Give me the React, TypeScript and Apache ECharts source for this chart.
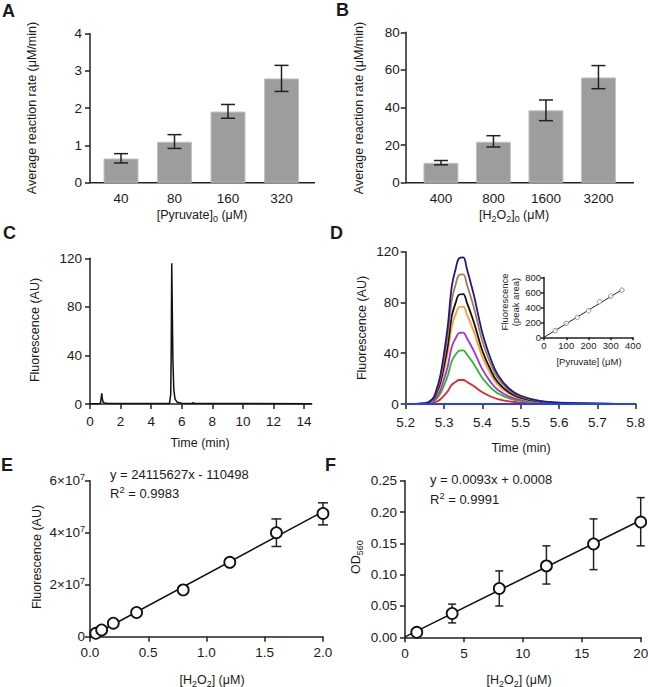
import React, { useEffect, useRef } from 'react';
import * as echarts from 'echarts';

// ---------- data ----------
const catsA = ['40', '80', '160', '320'];
const rateA = [0.65, 1.1, 1.91, 2.8];
const errLoA = [0.53, 0.92, 1.73, 2.45];
const errHiA = [0.78, 1.29, 2.1, 3.15];

const catsB = ['400', '800', '1600', '3200'];
const rateB = [10.6, 21.8, 38.5, 56];
const errLoB = [9.5, 19, 33, 50];
const errHiB = [11.8, 25, 44, 62.3];

const timeC = [0, 0.62, 0.7, 0.74, 0.77, 0.8, 0.85, 0.95, 1.2, 5.2, 5.28, 5.31, 5.345, 5.38, 5.42, 5.48, 5.56, 5.7, 6.0, 6.7, 6.75, 6.8, 14.5];
const fluoC = [0.3, 0.3, 1.5, 6, 8.8, 5, 1.8, 0.8, 0.4, 0.4, 8, 40, 116, 80, 38, 12, 4, 1.5, 0.6, 0.5, 1.2, 0.5, 0.3];

const timeD = [5.2, 5.25, 5.27, 5.28, 5.29, 5.3, 5.31, 5.32, 5.33, 5.34, 5.35, 5.36, 5.37, 5.38, 5.39, 5.4, 5.42, 5.44, 5.47, 5.5, 5.55, 5.62, 5.8];
const navyD = [0, 0.5, 4, 11, 22, 40, 62, 92, 106, 115, 115.5, 106, 95, 83, 69, 56, 37, 23, 12, 6.5, 2.5, 0.8, 0];
const brownD = [0, 0.4, 3.5, 9.7, 19.5, 35.4, 54.9, 81.4, 93.8, 101.8, 102.2, 93.8, 84.1, 73.5, 61.1, 49.6, 32.7, 20.4, 10.6, 5.8, 2.2, 0.7, 0];
const blackD = [0, 0.4, 3, 8.3, 16.5, 30, 46.5, 69, 79.5, 86.3, 86.6, 79.5, 71.3, 62.3, 51.8, 42, 27.8, 17.3, 9, 4.9, 1.9, 0.6, 0];
const orangeD = [0, 0.3, 2.7, 7.3, 14.6, 26.6, 41.2, 61.1, 70.4, 76.4, 76.7, 70.4, 63.1, 55.1, 45.8, 37.2, 24.6, 15.3, 8, 4.3, 1.7, 0.5, 0];
const purpleD = [0, 0.2, 1.9, 5.4, 10.7, 19.5, 30.2, 44.8, 51.6, 56, 56.2, 51.6, 46.3, 40.4, 33.6, 27.3, 18, 11.2, 5.8, 3.2, 1.2, 0.4, 0];
const greenD = [0, 0.2, 1.5, 4, 8.1, 14.6, 22.7, 33.7, 38.8, 42.1, 42.3, 38.8, 34.8, 30.4, 25.3, 20.5, 13.5, 8.4, 4.4, 2.4, 0.9, 0.3, 0];
const redD = [0, 0.1, 0.7, 1.8, 3.6, 6.6, 10.2, 15.1, 17.4, 18.9, 18.9, 17.4, 15.6, 13.6, 11.3, 9.2, 6.1, 3.8, 2, 1.1, 0.4, 0.1, 0];
const blueD = [0, 0, 0, 0, 0, 0, 0, 0, 0, 0, 0, 0, 0, 0, 0, 0, 0, 0, 0, 0, 0, 0, 0];

const pyrInset = [50, 100, 150, 200, 250, 300, 350];
const areaInset = [89, 187, 267, 356, 476, 551, 631];
const fitInsetX = [0, 350];
const fitInsetY = [0, 636];

const h2o2E = [0.05, 0.1, 0.2, 0.4, 0.8, 1.2, 1.6, 2.0];
const fluoE = [1.3e6, 2.6e6, 5.2e6, 9.3e6, 1.8e7, 2.86e7, 4.0e7, 4.74e7];
const errXE = [1.2, 1.6, 2.0];
const errLoE = [2.74e7, 3.47e7, 4.3e7];
const errHiE = [2.98e7, 4.53e7, 5.15e7];
const fitEX = [0, 2];
const fitEY = [-110498, 48120756];

const h2o2F = [1, 4, 8, 12, 16, 20];
const odF = [0.008, 0.038, 0.078, 0.114, 0.149, 0.184];
const errLoF = [0.005, 0.023, 0.05, 0.085, 0.108, 0.146];
const errHiF = [0.011, 0.053, 0.106, 0.146, 0.189, 0.223];
const fitFX = [0, 20];
const fitFY = [0.0008, 0.1868];

// ---------- style ----------
const FONT = '"Liberation Sans", Arial, Helvetica, sans-serif';
const TXT = '#1a1a1a';
const AXC = '#222';
const LBL = 13.5;
const TITLE = 12.5;

const lineStyleAx = { color: AXC, width: 1.5 };

const richLabel = {
  sup: { fontSize: 9, fontFamily: FONT, color: TXT, verticalAlign: 'top', padding: [0, 0, 7, 0] },
};

function yAxis(grid: number, min: number, max: number, interval: number, extra: any = {}) {
  return {
    type: 'value', gridIndex: grid, min, max, interval,
    axisLine: { show: true, lineStyle: lineStyleAx },
    axisTick: { show: true, length: 5, lineStyle: lineStyleAx },
    splitLine: { show: false },
    axisLabel: { margin: 7, fontSize: LBL, fontFamily: FONT, color: TXT, ...(extra.axisLabel || {}) },
    ...Object.fromEntries(Object.entries(extra).filter(([k]) => k !== 'axisLabel')),
  };
}
function xValue(grid: number, min: number, max: number, interval: number, extra: any = {}) {
  return {
    type: 'value', gridIndex: grid, min, max, interval,
    axisLine: { show: true, onZero: false, lineStyle: lineStyleAx },
    axisTick: { show: true, length: 5, lineStyle: lineStyleAx, ...(extra.axisTick || {}) },
    splitLine: { show: false },
    axisLabel: { margin: 9, fontSize: LBL, fontFamily: FONT, color: TXT, ...(extra.axisLabel || {}) },
  };
}
function xCat(grid: number, data: string[]) {
  return {
    type: 'category', gridIndex: grid, data,
    axisLine: { show: false },
    axisTick: { show: false },
    splitLine: { show: false },
    axisLabel: { margin: 9, fontSize: LBL, fontFamily: FONT, color: TXT },
  };
}

function errRender(cap: number) {
  return (params: any, api: any) => {
    const x = api.value(0);
    const pLo = api.coord([x, api.value(1)]);
    const pHi = api.coord([x, api.value(2)]);
    const style = { stroke: AXC, lineWidth: 1.5, fill: 'none' };
    return {
      type: 'group',
      children: [
        { type: 'line', shape: { x1: pLo[0], y1: pLo[1], x2: pHi[0], y2: pHi[1] }, style },
        { type: 'line', shape: { x1: pLo[0] - cap, y1: pLo[1], x2: pLo[0] + cap, y2: pLo[1] }, style },
        { type: 'line', shape: { x1: pHi[0] - cap, y1: pHi[1], x2: pHi[0] + cap, y2: pHi[1] }, style },
      ],
    };
  };
}

const richG = (fs: number) => ({
  sub: { fontSize: fs * 0.72, fontFamily: FONT, fill: TXT, verticalAlign: 'bottom', padding: [7, 0, 0, 0] },
  sup: { fontSize: fs * 0.72, fontFamily: FONT, fill: TXT, verticalAlign: 'top', padding: [0, 0, 7, 0] },
});

function T(x: number, y: number, text: string, fontSize: number, opt: any = {}) {
  return {
    type: 'text', x, y, silent: true,
    rotation: opt.rotation || 0,
    style: {
      text, fontSize, fontFamily: FONT, fill: TXT,
      fontWeight: opt.bold ? 'bold' : 'normal',
      align: opt.align || 'center', verticalAlign: 'middle',
      lineHeight: opt.lineHeight,
      rich: richG(fontSize),
    },
  };
}

const ROT = Math.PI / 2;

export default function App() {
  const ref = useRef<HTMLDivElement>(null);
  useEffect(() => {
    if (!ref.current) return;
    const chart = echarts.init(ref.current, null, { renderer: 'svg' });
    const lineD = (data: number[], color: string, z = 2) => ({
      type: 'line', xAxisIndex: 3, yAxisIndex: 3, z,
      data: timeD.map((t, i) => [t, data[i]]),
      showSymbol: false, smooth: 0.4,
      lineStyle: { color, width: 1.8 },
    });
    const option: any = {
      animation: false,
      backgroundColor: '#fff',
      grid: [
        { left: 94.25, top: 33.7, width: 214, height: 149 },
        { left: 414.7, top: 32.3, width: 210, height: 150.4 },
        { left: 90, top: 258.3, width: 221.7, height: 145.7 },
        { left: 405.7, top: 251.7, width: 230, height: 152.3 },
        { left: 544, top: 277.5, width: 89, height: 59.8 },
        { left: 90, top: 480.7, width: 233, height: 156 },
        { left: 405, top: 480.7, width: 235.7, height: 156.6 },
      ].map((g) => ({ ...g, containLabel: false, outerBoundsMode: 'none' })),
      xAxis: [
        xCat(0, catsA),
        xCat(1, catsB),
        xValue(2, 0, 14.5, 2, {
          axisLabel: { margin: 10, customValues: [0, 2, 4, 6, 8, 10, 12, 14] },
          axisTick: { customValues: [0, 2, 4, 6, 8, 10, 12, 14] },
        }),
        xValue(3, 5.2, 5.8, 0.1, { axisLabel: { margin: 11, formatter: (v: number) => v.toFixed(1) } }),
        xValue(4, 0, 400, 100, { axisLabel: { margin: 3, fontSize: 9.5 }, axisTick: { length: 3 } }),
        xValue(5, 0, 2, 0.5, { axisLabel: { formatter: (v: number) => v.toFixed(1) } }),
        xValue(6, 0, 20, 5),
      ],
      yAxis: [
        yAxis(0, 0, 4, 1, { offset: 4.25, axisLabel: { margin: 8 } }),
        yAxis(1, 0, 80, 20, { offset: 9, axisLabel: { margin: 6 } }),
        yAxis(2, 0, 120, 40, { axisLabel: { margin: 8 } }),
        yAxis(3, 0, 120, 40),
        yAxis(4, 0, 800, 200, { axisLabel: { margin: 3, fontSize: 9.5 }, axisTick: { show: true, length: 3, lineStyle: lineStyleAx } }),
        yAxis(5, 0, 6e7, 2e7, {
          axisLabel: {
            margin: 5,
            formatter: (v: number) => (v === 0 ? '0' : `${v / 1e7}×10{sup|7}`),
            rich: richLabel,
          },
        }),
        yAxis(6, 0, 0.25, 0.05, { axisLabel: { margin: 8, formatter: (v: number) => v.toFixed(2) } }),
      ],
      series: [
        {
          type: 'bar', xAxisIndex: 0, yAxisIndex: 0, data: rateA, barWidth: 35,
          itemStyle: { color: '#9d9d9f', borderColor: '#c2c2c2', borderWidth: 1 },
        },
        {
          type: 'custom', xAxisIndex: 0, yAxisIndex: 0, renderItem: errRender(7), z: 5,
          data: catsA.map((_, i) => [i, errLoA[i], errHiA[i]]), encode: { x: 0, y: [1, 2] },
        },
        {
          type: 'bar', xAxisIndex: 1, yAxisIndex: 1, data: rateB, barWidth: 35,
          itemStyle: { color: '#9d9d9f', borderColor: '#c2c2c2', borderWidth: 1 },
        },
        {
          type: 'custom', xAxisIndex: 1, yAxisIndex: 1, renderItem: errRender(7), z: 5,
          data: catsB.map((_, i) => [i, errLoB[i], errHiB[i]]), encode: { x: 0, y: [1, 2] },
        },
        {
          type: 'line', xAxisIndex: 2, yAxisIndex: 2, showSymbol: false,
          data: timeC.map((t, i) => [t, fluoC[i]]),
          lineStyle: { color: '#111', width: 1.5 },
        },
        lineD(redD, '#e3242b'),
        lineD(greenD, '#2db52d'),
        lineD(purpleD, '#a531d6'),
        lineD(orangeD, '#ff9a30'),
        lineD(blackD, '#111111'),
        lineD(brownD, '#a87a4c'),
        lineD(navyD, '#1b1b86'),
        lineD(blueD, '#2440ff', 4),
        {
          type: 'line', xAxisIndex: 4, yAxisIndex: 4, showSymbol: false,
          data: fitInsetX.map((x, i) => [x, fitInsetY[i]]),
          lineStyle: { color: '#222', width: 1 },
        },
        {
          type: 'scatter', xAxisIndex: 4, yAxisIndex: 4, symbol: 'circle', symbolSize: 4.5, z: 5,
          data: pyrInset.map((x, i) => [x, areaInset[i]]),
          itemStyle: { color: '#fff', borderColor: '#777', borderWidth: 1 },
        },
        {
          type: 'line', xAxisIndex: 5, yAxisIndex: 5, showSymbol: false,
          data: fitEX.map((x, i) => [x, fitEY[i]]),
          lineStyle: { color: '#111', width: 1.5 },
        },
        {
          type: 'custom', xAxisIndex: 5, yAxisIndex: 5, renderItem: errRender(5), z: 3,
          data: errXE.map((x, i) => [x, errLoE[i], errHiE[i]]), encode: { x: 0, y: [1, 2] },
        },
        {
          type: 'scatter', xAxisIndex: 5, yAxisIndex: 5, symbol: 'circle', symbolSize: 11, z: 6,
          data: h2o2E.map((x, i) => [x, fluoE[i]]),
          itemStyle: { color: '#fff', borderColor: '#111', borderWidth: 1.8, opacity: 1 },
        },
        {
          type: 'line', xAxisIndex: 6, yAxisIndex: 6, showSymbol: false,
          data: fitFX.map((x, i) => [x, fitFY[i]]),
          lineStyle: { color: '#111', width: 1.5 },
        },
        {
          type: 'custom', xAxisIndex: 6, yAxisIndex: 6, renderItem: errRender(4), z: 3,
          data: h2o2F.map((x, i) => [x, errLoF[i], errHiF[i]]), encode: { x: 0, y: [1, 2] },
        },
        {
          type: 'scatter', xAxisIndex: 6, yAxisIndex: 6, symbol: 'circle', symbolSize: 11, z: 6,
          data: h2o2F.map((x, i) => [x, odF[i]]),
          itemStyle: { color: '#fff', borderColor: '#111', borderWidth: 1.8, opacity: 1 },
        },
      ],
      graphic: [
        // category axis baselines for A and B
        { type: 'line', silent: true, shape: { x1: 90, y1: 182.7, x2: 315, y2: 182.7 }, style: { stroke: AXC, lineWidth: 1.5 } },
        { type: 'line', silent: true, shape: { x1: 405.7, y1: 182.7, x2: 634, y2: 182.7 }, style: { stroke: AXC, lineWidth: 1.5 } },
        // panel letters
        T(2, 11, 'A', 18, { bold: true, align: 'left' }),
        T(336, 9.5, 'B', 18, { bold: true, align: 'left' }),
        T(3, 233, 'C', 18, { bold: true, align: 'left' }),
        T(330, 233, 'D', 18, { bold: true, align: 'left' }),
        T(1, 465, 'E', 18, { bold: true, align: 'left' }),
        T(325, 465, 'F', 18, { bold: true, align: 'left' }),
        // y titles
        T(32, 108, 'Average reaction rate (μM/min)', TITLE, { rotation: ROT }),
        T(359, 108, 'Average reaction rate (μM/min)', TITLE, { rotation: ROT }),
        T(35, 330, 'Fluorescence (AU)', TITLE, { rotation: ROT }),
        T(362, 328, 'Fluorescence (AU)', TITLE, { rotation: ROT }),
        T(509.5, 302, 'Fluorescence\n(peak area)', 9.5, { rotation: ROT, lineHeight: 11 }),
        T(37, 557, 'Fluorescence (AU)', TITLE, { rotation: ROT }),
        T(356, 557, 'OD{sub|560}', TITLE, { rotation: ROT }),
        // x titles
        T(202, 215, '[Pyruvate]{sub|0} (μM)', TITLE),
        T(514, 215, '[H{sub|2}O{sub|2}]{sub|0} (μM)', TITLE),
        T(200, 443, 'Time (min)', TITLE),
        T(521, 448, 'Time (min)', TITLE),
        T(589, 361, '[Pyruvate] (μM)', 9.5),
        T(212, 680, '[H{sub|2}O{sub|2}] (μM)', TITLE),
        T(519, 680, '[H{sub|2}O{sub|2}] (μM)', TITLE),
        // equations
        T(110, 474, 'y = 24115627x - 110498', 13, { align: 'left' }),
        T(110, 493, 'R{sup|2} = 0.9983', 13, { align: 'left' }),
        T(430, 479, 'y = 0.0093x + 0.0008', 13, { align: 'left' }),
        T(430, 499, 'R{sup|2} = 0.9991', 13, { align: 'left' }),
      ],
    };
    chart.setOption(option);
    return () => chart.dispose();
  }, []);
  return (
    <div
      ref={ref}
      style={{ position: 'absolute', left: 0, top: 0, width: 648, height: 687, background: '#fff' }}
    />
  );
}
